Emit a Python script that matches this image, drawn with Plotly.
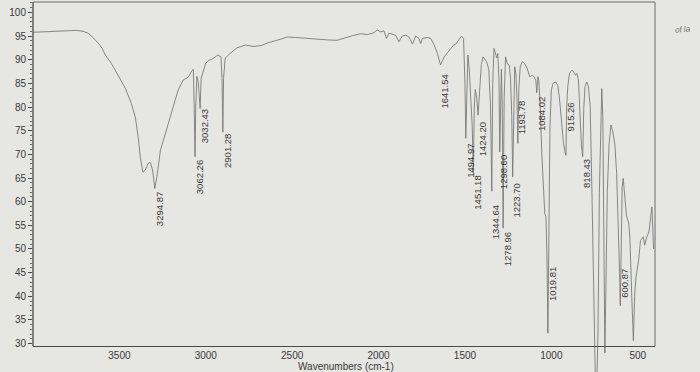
import plotly.graph_objects as go

# ---------------- data ----------------
wavenumber = [
    4000, 3950, 3900, 3850, 3800, 3745, 3710, 3680, 3650, 3622, 3600, 3581, 3546, 3506,
    3466, 3431, 3408, 3391, 3379, 3364, 3350, 3333, 3321, 3308, 3295, 3280, 3262, 3245,
    3225, 3198, 3180, 3160, 3131, 3102, 3085, 3072, 3067, 3062.26, 3058, 3052, 3044, 3038,
    3032.43, 3027, 3017, 3000, 2980, 2960, 2930, 2912, 2906, 2901.28, 2897, 2888, 2860,
    2820, 2770, 2720, 2680, 2630, 2570, 2530, 2480, 2420, 2360, 2300, 2240, 2200, 2150,
    2100, 2066, 2027, 2008, 1989, 1969, 1954, 1940, 1921, 1902, 1882, 1863, 1843, 1824,
    1804, 1785, 1766, 1756, 1746, 1717, 1698, 1678, 1659, 1650, 1641.54, 1620, 1605, 1591,
    1578, 1566, 1553, 1533, 1520, 1508, 1500, 1494.97, 1489, 1483, 1475, 1468, 1458,
    1451.18, 1446, 1440, 1432, 1424.20, 1416, 1405, 1395, 1385, 1375, 1362, 1352, 1344.64,
    1339, 1332, 1322, 1316, 1310, 1303, 1298.60, 1294, 1289, 1284, 1278.96, 1273, 1265,
    1255, 1244, 1236, 1229, 1223.70, 1218, 1212, 1205, 1199, 1193.78, 1188, 1180, 1168,
    1155, 1140, 1125, 1110, 1100, 1090, 1084.02, 1078, 1072, 1064, 1055, 1046, 1038, 1031,
    1025, 1019.81, 1016, 1012, 1008, 1000, 990, 975, 962, 952, 942, 930, 920, 915.26, 911,
    905, 895, 880, 868, 860, 852, 843, 835, 826, 818.43, 812, 805, 795, 785, 775, 765, 755,
    745, 738, 730, 722, 714, 708, 702, 695, 690, 684, 676, 666, 655, 645, 632, 622, 612,
    605, 600.87, 597, 590, 584, 578, 565, 552, 545, 535, 525, 518, 510, 495, 484, 467, 460,
    447, 435, 418, 412, 408,
]
transmittance = [
    95.8, 95.9, 96.0, 96.0, 96.1, 96.2, 96.0, 95.6, 94.6, 93.5, 92.4, 91.0, 89.2, 86.7,
    84.0, 80.8, 77.9, 73.6, 69.4, 66.2, 66.7, 68.1, 68.3, 66.7, 62.8, 66.0, 71.0, 73.0,
    75.5, 78.9, 81.5, 83.6, 85.7, 86.3, 87.4, 88.0, 80.0, 69.5, 80.0, 86.5, 85.5, 83.0,
    79.7, 86.0, 87.4, 89.3, 89.9, 90.2, 91.0, 90.6, 86.0, 74.7, 86.0, 90.3, 91.3,
    92.5, 93.1, 92.8, 93.0, 93.7, 94.3, 94.8, 94.7, 94.5, 94.3, 94.2, 94.1, 94.6, 95.1,
    95.5, 95.3, 95.7, 96.3, 95.9, 96.1, 94.5, 95.6, 95.4, 95.2, 93.8, 95.0, 95.2, 94.8,
    93.3, 95.0, 94.5, 93.4, 94.5, 94.7, 94.5, 93.1, 91.3, 89.9, 88.9, 90.6, 91.3, 91.9,
    92.7, 93.1, 93.3, 94.5, 95.0, 94.5, 85.0, 73.4, 86.0, 91.0, 88.0, 83.6, 76.0,
    66.0, 80.0, 83.7, 82.0, 78.3, 84.0, 89.0, 90.6, 90.2, 89.6, 88.0, 80.0, 62.2,
    85.0, 92.4, 91.0, 90.4, 91.3, 86.0, 70.5, 84.0, 88.0, 80.0, 54.4, 82.0, 90.6,
    89.2, 88.9, 86.0, 78.0, 65.2, 82.0, 88.5, 87.0, 82.0, 72.3, 84.0, 88.5, 89.6,
    89.2, 88.2, 86.4, 86.7, 86.4, 85.7, 83.0, 86.4, 85.5, 80.0, 70.0, 62.0, 57.5, 56.8,
    47.6, 32.2, 45.0, 60.0, 75.8, 83.6, 85.0, 85.3, 84.5, 81.5, 77.0, 72.5, 70.3, 69.8, 80.0,
    84.3, 87.1, 87.8, 87.3, 86.7, 87.1, 85.7, 79.3, 72.0, 69.5, 80.0, 84.3, 85.3, 84.3, 80.0, 62.0, 38.0,
    22.0, 20.0, 32.0, 62.0, 80.0, 83.9, 78.0, 50.0, 28.0, 42.0, 62.0, 72.0, 76.2, 75.0, 72.0, 66.0, 55.0,
    45.0, 38.0, 50.0, 63.0, 64.9, 62.0, 57.0, 55.5, 52.0, 40.6, 30.6, 40.0, 44.0, 47.6, 51.8, 52.6, 50.8,
    52.6, 53.6, 58.9, 52.6, 50.0,
]

peak_labels = [
    "3294.87", "3062.26", "3032.43", "2901.28", "1641.54", "1494.97", "1451.18",
    "1424.20", "1344.64", "1298.60", "1278.96", "1223.70", "1193.78", "1084.02",
    "1019.81", "915.26", "818.43", "600.87",
]
peak_wn = [
    3294.87, 3062.26, 3032.43, 2901.28, 1641.54, 1494.97, 1451.18,
    1424.20, 1344.64, 1298.60, 1278.96, 1223.70, 1193.78, 1084.02,
    1019.81, 915.26, 818.43, 600.87,
]
label_top = [
    62.4, 69.2, 80.0, 74.7, 87.4, 72.6, 66.0,
    77.2, 59.6, 70.2, 54.0, 64.2, 81.8, 82.5,
    46.6, 81.5, 69.5, 46.2,
]

x_ticks = [3500, 3000, 2500, 2000, 1500, 1000, 500]
y_ticks = [30, 35, 40, 45, 50, 55, 60, 65, 70, 75, 80, 85, 90, 95, 100]
y_minor = [v for v in range(30, 103) if v % 5 != 0]

x_range = [4000, 400]
y_range = [24.0, 102.2]
axis_floor = 29.5

# ---------------- styling ----------------
BG = "#E6E6E3"
INK = "#4a4a4a"
TXT = "#3a3a3a"
FONT = "Liberation Sans, Arial, sans-serif"

fig = go.Figure()
fig.add_trace(go.Scatter(
    x=wavenumber, y=transmittance, mode="lines",
    line=dict(color="#747474", width=0.85),
    hoverinfo="skip",
))

pos = (axis_floor - y_range[0]) / (y_range[1] - y_range[0])

fig.update_layout(
    width=700, height=372,
    margin=dict(l=33, r=45, t=2, b=0),
    paper_bgcolor=BG, plot_bgcolor=BG,
    showlegend=False,
    xaxis=dict(
        range=x_range, anchor="free", position=pos,
        showline=True, linecolor=INK, linewidth=1.3,
        ticks="", ticklen=0, ticklabelstandoff=0,
        tickvals=x_ticks, tickfont=dict(family=FONT, size=10, color=TXT),
        showgrid=False, zeroline=False, automargin=False,
    ),
    yaxis=dict(
        range=y_range, showline=False,
        ticks="outside", ticklen=4, tickcolor=INK, tickwidth=1,
        tickvals=y_ticks, tickfont=dict(family=FONT, size=10, color=TXT),
        showgrid=False, zeroline=False, automargin=False,
        minor=dict(tickvals=y_minor, ticks="outside", ticklen=2,
                   tickcolor="#6a6a6a", tickwidth=1),
    ),
)

# frame: left axis, top and right borders
fig.add_shape(type="line", xref="paper", yref="y", x0=0, x1=0,
              y0=axis_floor, y1=y_range[1], line=dict(color=INK, width=1.3))
fig.add_shape(type="line", xref="paper", yref="paper", x0=0, x1=1,
              y0=1, y1=1, line=dict(color="#6a6a6a", width=1))
fig.add_shape(type="line", xref="paper", yref="y", x0=1, x1=1,
              y0=axis_floor, y1=y_range[1], line=dict(color="#6a6a6a", width=1))

# peak labels
for txt, wn, yt in zip(peak_labels, peak_wn, label_top):
    fig.add_annotation(
        x=wn, y=yt, text=txt, textangle=-90, showarrow=False,
        xanchor="center", yanchor="top", xshift=4,
        font=dict(family=FONT, size=9.5, color=TXT),
    )

# axis title
fig.add_annotation(
    x=0.503, y=6 / 370, xref="paper", yref="paper", text="Wavenumbers (cm-1)",
    showarrow=False, xanchor="center", yanchor="middle", borderpad=0,
    font=dict(family=FONT, size=10, color=TXT),
)

# fragment of the sheet underneath, visible at the right edge
fig.add_annotation(
    x=1.045, y=0.925, xref="paper", yref="paper", text="of la",
    showarrow=False, xanchor="center", yanchor="middle", textangle=-6,
    font=dict(family=FONT, size=8, color="#707060", style="italic"),
)

fig.write_html(
    "out.html",
    config={"displayModeBar": False},
    post_script="document.body.style.margin='0px';",
)
